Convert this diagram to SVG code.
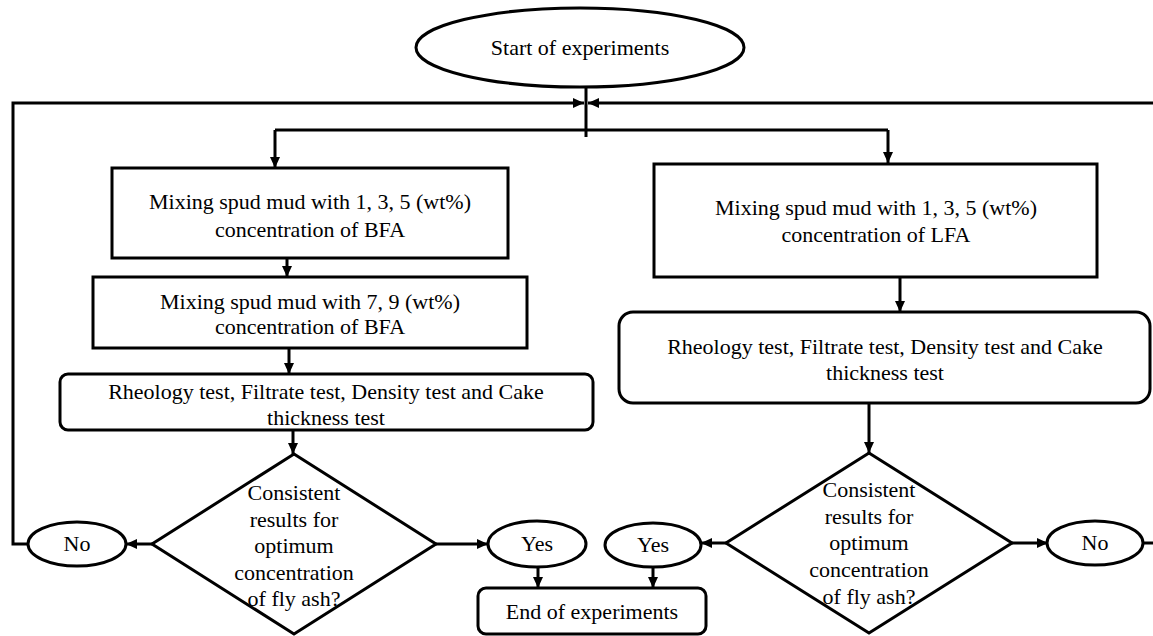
<svg xmlns="http://www.w3.org/2000/svg" width="1153" height="636" viewBox="0 0 1153 636">
<defs>
<style>
.s{fill:#fff;stroke:#000;stroke-width:3}
.t{font-family:"Liberation Serif","Times New Roman",serif;font-size:22px;fill:#000;text-anchor:middle}
.c{fill:none;stroke:#000;stroke-width:3}
.a{fill:none;stroke:#000;stroke-width:3;marker-end:url(#ah)}
</style>
<marker id="ah" markerUnits="userSpaceOnUse" markerWidth="12" markerHeight="12" viewBox="0 0 12 12" refX="11" refY="6" orient="auto">
<path d="M0,1 L11,6 L0,11 Z" fill="#000"/>
</marker>
</defs>
<rect width="1153" height="636" fill="#fff"/>
<g id="connectors">
<path class="a" d="M29,544 H13 V103 H584"/>
<path class="a" d="M1153,103 H588"/>
<path class="c" d="M1143,543 H1153"/>
<path class="c" d="M586,87 V137"/>
<path class="c" d="M275,130 H888"/>
<path class="a" d="M275,130 V168"/>
<path class="a" d="M888,130 V163"/>
<path class="a" d="M287,258 V277"/>
<path class="a" d="M289,348 V374"/>
<path class="a" d="M293,430 V454"/>
<path class="a" d="M152,544 H126"/>
<path class="a" d="M436,544 H488"/>
<path class="a" d="M538,567 V588"/>
<path class="a" d="M653,567 V588"/>
<path class="a" d="M900,277 V312"/>
<path class="a" d="M869,403 V453"/>
<path class="a" d="M726,543 H701"/>
<path class="a" d="M1012,543 H1048"/>
</g>
<g id="start">
<ellipse class="s" cx="580" cy="47.5" rx="164" ry="39.5"/>
<text class="t" x="580" y="55">Start of experiments</text>
</g>
<g id="bfa135">
<rect class="s" x="112" y="168" width="396" height="90"/>
<text class="t" x="310" y="209">Mixing spud mud with 1, 3, 5 (wt%)</text>
<text class="t" x="310" y="237">concentration of BFA</text>
</g>
<g id="bfa79">
<rect class="s" x="93" y="277" width="434" height="71"/>
<text class="t" x="310" y="309">Mixing spud mud with 7, 9 (wt%)</text>
<text class="t" x="310" y="334">concentration of BFA</text>
</g>
<g id="testsL">
<rect class="s" x="60" y="374" width="533" height="56" rx="8"/>
<text class="t" x="326" y="399">Rheology test, Filtrate test, Density test and Cake</text>
<text class="t" x="326" y="425">thickness test</text>
</g>
<g id="decisionL">
<polygon class="s" points="294,454 436,544 294,634 152,544"/>
<text class="t" x="294" y="500">Consistent</text>
<text class="t" x="294" y="527">results for</text>
<text class="t" x="294" y="553">optimum</text>
<text class="t" x="294" y="580">concentration</text>
<text class="t" x="294" y="606">of fly ash?</text>
</g>
<g id="noL">
<ellipse class="s" cx="77" cy="544" rx="49" ry="22"/>
<text class="t" x="77" y="551">No</text>
</g>
<g id="yesL">
<ellipse class="s" cx="537" cy="544" rx="49" ry="23"/>
<text class="t" x="537" y="551">Yes</text>
</g>
<g id="end">
<rect class="s" x="478" y="588" width="228" height="46" rx="8"/>
<text class="t" x="592" y="619">End of experiments</text>
</g>
<g id="lfa135">
<rect class="s" x="654" y="164" width="443" height="113"/>
<text class="t" x="876" y="215">Mixing spud mud with 1, 3, 5 (wt%)</text>
<text class="t" x="876" y="242">concentration of LFA</text>
</g>
<g id="testsR">
<rect class="s" x="619" y="312" width="531" height="91" rx="14"/>
<text class="t" x="885" y="354">Rheology test, Filtrate test, Density test and Cake</text>
<text class="t" x="885" y="380">thickness test</text>
</g>
<g id="decisionR">
<polygon class="s" points="869,453 1012,543 869,633 726,543"/>
<text class="t" x="869" y="497">Consistent</text>
<text class="t" x="869" y="524">results for</text>
<text class="t" x="869" y="550">optimum</text>
<text class="t" x="869" y="577">concentration</text>
<text class="t" x="869" y="604">of fly ash?</text>
</g>
<g id="yesR">
<ellipse class="s" cx="653" cy="545" rx="48" ry="22"/>
<text class="t" x="653" y="552">Yes</text>
</g>
<g id="noR">
<ellipse class="s" cx="1095" cy="543" rx="48" ry="22"/>
<text class="t" x="1095" y="550">No</text>
</g>
</svg>
